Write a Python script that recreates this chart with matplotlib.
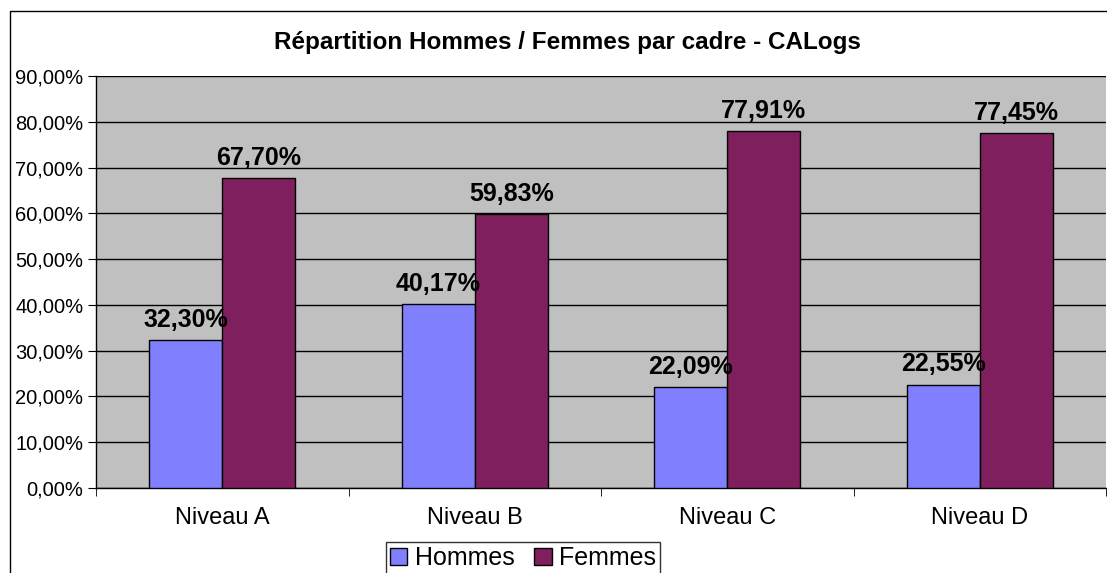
import matplotlib
matplotlib.use("Agg")
import numpy as np
import matplotlib.pyplot as plt
from matplotlib.patches import Rectangle

plt.rcParams["font.family"] = ["Liberation Sans", "DejaVu Sans"]

# data
categories = ["Niveau A", "Niveau B", "Niveau C", "Niveau D"]
hommes = [32.30, 40.17, 22.09, 22.55]
femmes = [67.70, 59.83, 77.91, 77.45]
series_names = ["Hommes", "Femmes"]

COL_H = "#8080FF"
COL_F = "#801F5E"
BG = "#C0C0C0"

fig = plt.figure(figsize=(11.07, 5.73), dpi=100)
W, H = 1107, 573

# outer chart frame (cropped at right/bottom like the reference)
fig.patches.append(Rectangle((10 / W, -0.05), 1.2, 1 - 11 / H + 0.05,
                             transform=fig.transFigure, fill=False,
                             edgecolor="black", lw=1.0))

ax = fig.add_axes([96 / W, 1 - 488 / H, (1106 - 96) / W, (488 - 76) / H])
ax.set_facecolor(BG)

x = np.arange(len(categories))
bw = 0.29
bh = ax.bar(x - bw / 2, hommes, bw, color=COL_H, edgecolor="black", lw=1.0,
            label=series_names[0], zorder=3)
bf = ax.bar(x + bw / 2, femmes, bw, color=COL_F, edgecolor="black", lw=1.0,
            label=series_names[1], zorder=3)

def fmt(v):
    return f"{v:.2f}%".replace(".", ",")

for bars, vals in [(bh, hommes), (bf, femmes)]:
    for b, v in zip(bars, vals):
        ax.annotate(fmt(v), (b.get_x() + b.get_width() / 2, v),
                    xytext=(0, 6), textcoords="offset points",
                    ha="center", va="bottom", fontsize=18, fontweight="bold",
                    zorder=5)

ax.set_xlim(-0.5, 3.5)
ax.set_ylim(0, 90)
yt = np.arange(0, 91, 10)
ax.set_yticks(yt)
ax.set_yticklabels([f"{v:.2f}%".replace(".", ",") for v in yt], fontsize=14.5)
ax.yaxis.grid(True, color="black", lw=1.0, zorder=0)
ax.set_axisbelow(True)

ax.set_xticks(x)
ax.set_xticklabels(categories, fontsize=17)
ax.tick_params(axis="x", length=0, pad=14)
ax.set_xticks(np.arange(-0.5, 4.0, 1.0), minor=True)
ax.tick_params(axis="x", which="minor", length=6, direction="out", color="black")
ax.tick_params(axis="y", length=6, direction="out", pad=3)

for side in ["top", "right"]:
    ax.spines[side].set_visible(False)
ax.spines["left"].set_color("black")
ax.spines["bottom"].set_color("black")
ax.spines["left"].set_linewidth(1.0)
ax.spines["bottom"].set_linewidth(1.0)

fig.text(567 / W, 1 - 42 / H, "Répartition Hommes / Femmes par cadre - CALogs",
         ha="center", va="center", fontsize=17.5, fontweight="bold")

leg = fig.legend(handles=[bh, bf], labels=series_names, loc="center",
                 bbox_to_anchor=(523 / W, 1 - 558 / H), ncol=2, fontsize=18,
                 frameon=True, fancybox=False, edgecolor="black",
                 handlelength=0.7, handleheight=0.7, handletextpad=0.3,
                 columnspacing=0.8, borderpad=0.15)
leg.get_frame().set_linewidth(1.0)

fig.savefig("out.png", dpi=100)
